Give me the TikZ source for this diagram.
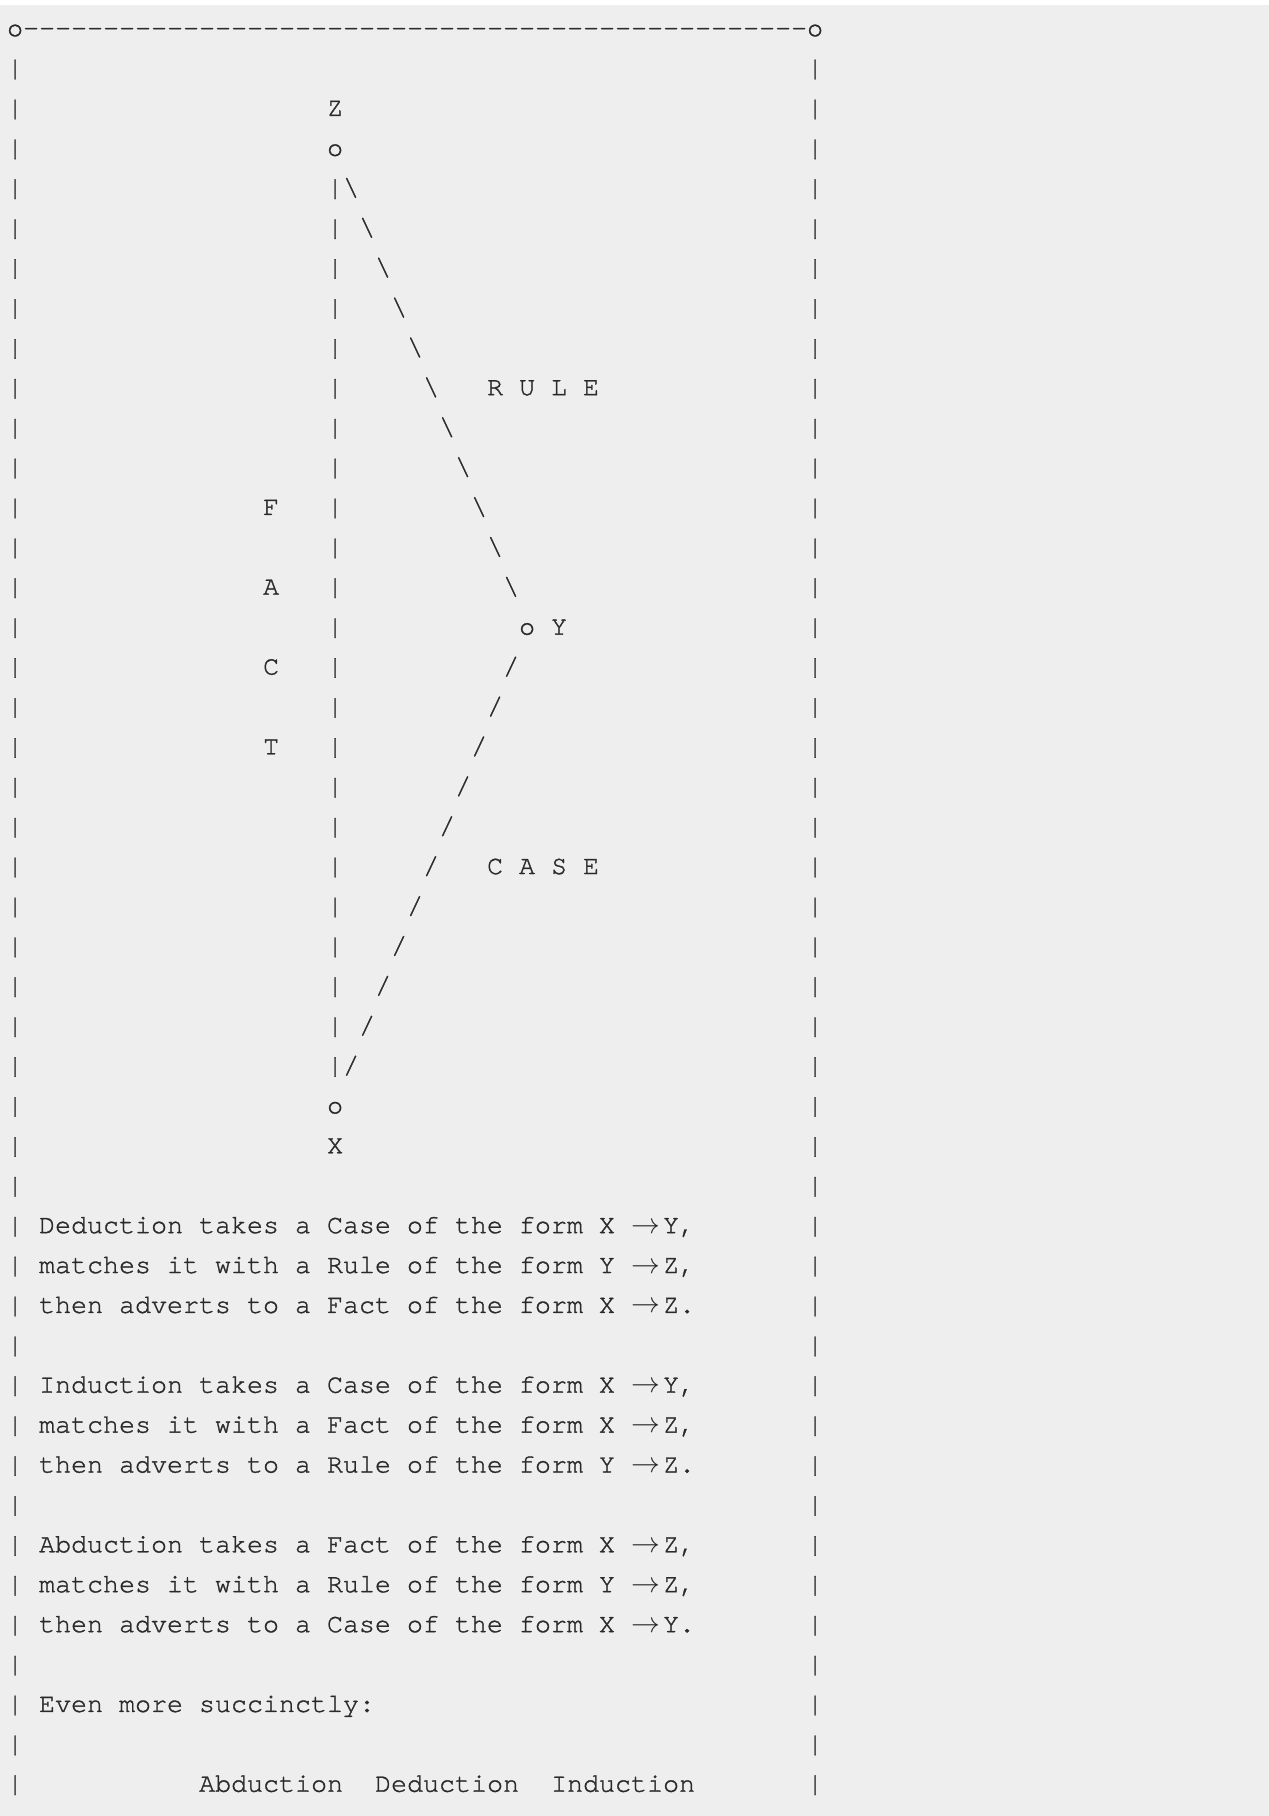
\documentclass[tikz,border=0pt]{standalone}
\usepackage{fontspec}
\setmonofont[FakeBold=1.2]{texgyrecursor-regular.otf}
\definecolor{paper}{HTML}{EEEEEE}
\definecolor{ink}{HTML}{2A2A2A}

\begin{document}
\begin{tikzpicture}[
    x=8pt, y=-19.95pt,
    glyph/.style={font=\ttfamily\fontsize{13.33pt}{16pt}\selectfont, text=ink, inner sep=0pt, anchor=base west}
]
    \useasboundingbox (-0.419,-0.905) rectangle (78.894,44.609);
    \fill[paper] (-0.419,-0.779) rectangle (78.894,44.609);

    % frame
    \node[glyph] (tl) at (0,0) {o};
    \node[glyph] (tr) at (50,0) {o};
    \foreach \c in {1,...,49} \node[glyph] at (\c,0) {-};
    \foreach \k in {1,...,44} {
        \node[glyph] at (0,\k) {|};
        \node[glyph] at (50,\k) {|};
    }

    % triangle X -- Y -- Z
    \node[glyph] (zname) at (20,2) {Z};
    \node[glyph] (z) at (20,3) {o};
    \foreach \k in {4,...,26} \node[glyph] at (20,\k) {|};
    \foreach \k in {4,...,14} \node[glyph] at ({17+\k},\k) {\textbackslash};
    \node[glyph] (y) at (32,15) {o};
    \node[glyph] (yname) at (34,15) {Y};
    \foreach \k in {16,...,26} \node[glyph] at ({47-\k},\k) {/};
    \node[glyph] (x) at (20,27) {o};
    \node[glyph] (xname) at (20,28) {X};

    \node[glyph] (rule) at (30,9) {R U L E};
    \node[glyph] (case) at (30,21) {C A S E};
    \foreach \k/\t in {12/F,14/A,16/C,18/T} \node[glyph] at (16,\k) {\t};

    % the three inferences
    \foreach \k/\a/\b in {
        30/{Deduction takes a Case of the form X}/{Y,},
        31/{matches it with a Rule of the form Y}/{Z,},
        32/{then adverts to a Fact of the form X}/{Z.},
        34/{Induction takes a Case of the form X}/{Y,},
        35/{matches it with a Fact of the form X}/{Z,},
        36/{then adverts to a Rule of the form Y}/{Z.},
        38/{Abduction takes a Fact of the form X}/{Z,},
        39/{matches it with a Rule of the form Y}/{Z,},
        40/{then adverts to a Case of the form X}/{Y.}} {
        \node[glyph] at (2,\k) {\a};
        \node[glyph] at (39,\k) {$\rightarrow$};
        \node[glyph] at (41,\k) {\b};
    }

    \node[glyph] (even) at (2,42) {Even more succinctly:};
    \node[glyph] (abd) at (12,44) {Abduction};
    \node[glyph] (ded) at (23,44) {Deduction};
    \node[glyph] (ind) at (34,44) {Induction};
\end{tikzpicture}
\end{document}
